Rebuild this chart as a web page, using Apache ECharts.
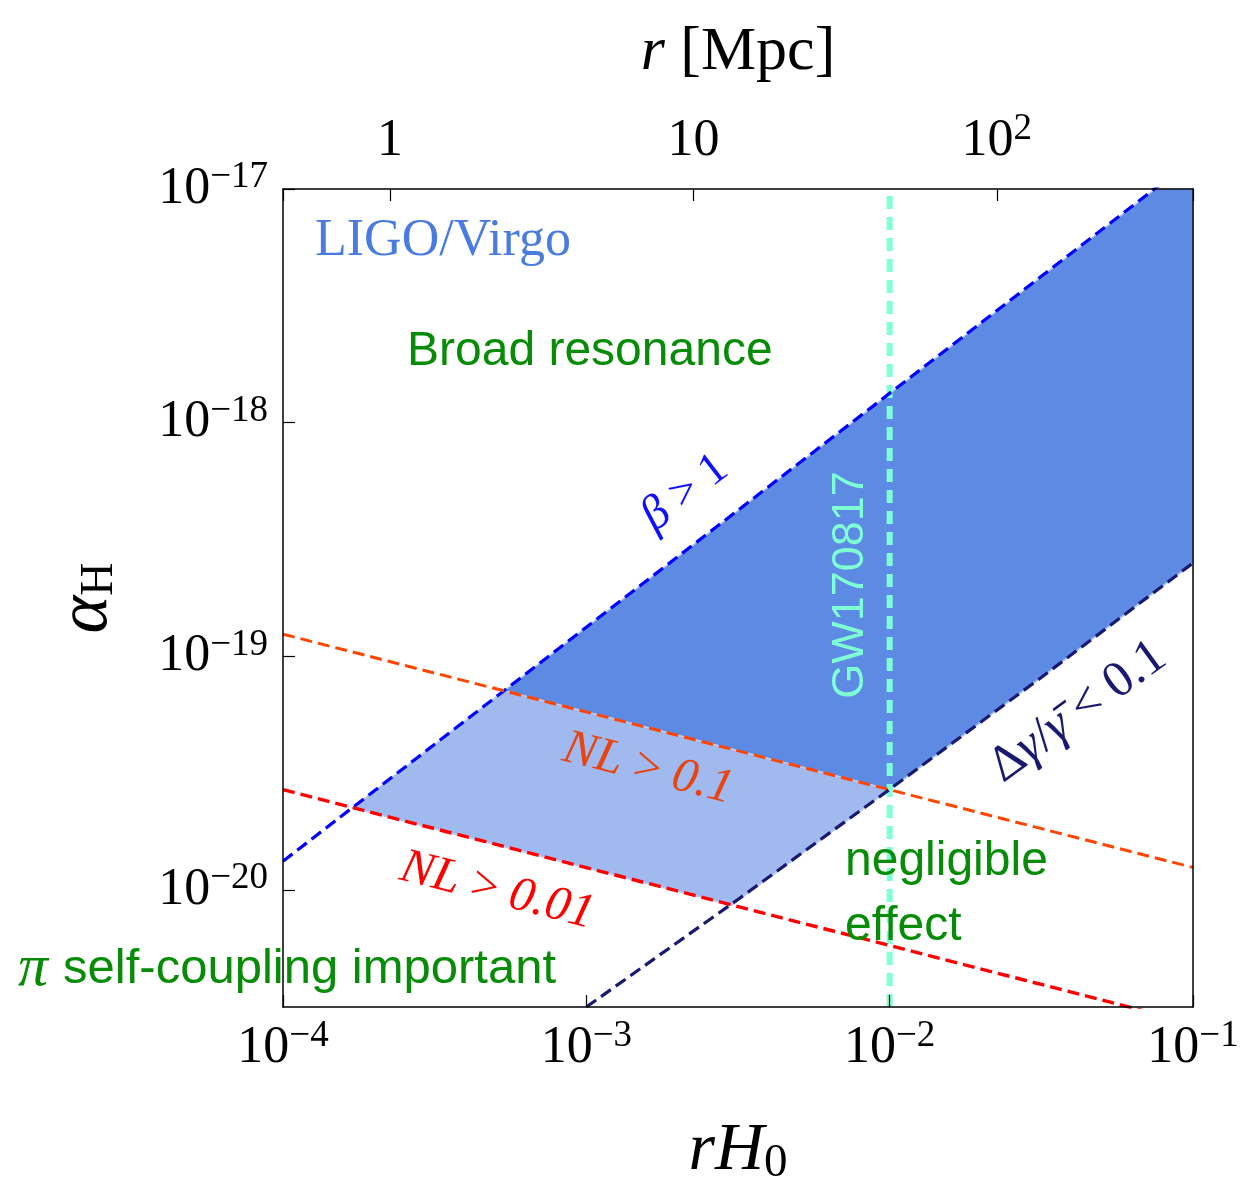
<!DOCTYPE html>
<html><head><meta charset="utf-8">
<script src="https://cdn.jsdelivr.net/npm/echarts@6/dist/echarts.min.js"></script>
<style>html,body{margin:0;padding:0;background:#fff}#main{width:1242px;height:1179px}</style>
</head><body><div id="main"></div>
<script>
// ---------- data ----------
const cOverH0Mpc = 4435;                    // r [Mpc] = rH0 * c/H0
const rH0Range = [1e-4, 1e-1];
const alphaRange = [3.162e-21, 1e-17];

// boundary lines  [rH0, alpha_H]
const betaLine   = [[1e-4, 1.33e-20], [1e-1, 1.34e-17]];
const nl01Line   = [[1e-4, 1.245e-19], [1e-1, 1.25e-20]];
const nl001Line  = [[1e-4, 2.69e-20], [1e-1, 2.69e-21]];
const dGammaLine = [[1e-3, 3.162e-21], [3.16e-3, 9.12e-21], [1e-2, 2.70e-20], [3.16e-2, 8.13e-20], [1e-1, 2.51e-19]];
const gw170817 = 1e-2;

// shaded regions (vertices)
const strongRegion = [[5.36e-4, 7.13e-20], [0.0752, 1e-17], [1e-1, 1e-17], [1e-1, 2.51e-19], [3.16e-2, 8.13e-20], [1e-2, 2.69e-20]];
const weakRegion   = [[5.36e-4, 7.13e-20], [1.694e-4, 2.25e-20], [3.01e-3, 8.63e-21], [1e-2, 2.69e-20]];

// ---------- styling ----------
const serif = '"Liberation Serif", "DejaVu Serif", serif';
const sans = '"Liberation Sans", Arial, sans-serif';
const green = '#078c07';

const tickRich = {
  b: {fontFamily: serif, fontSize: 52, lineHeight: 60, color: '#000'},
  s: {fontFamily: serif, fontSize: 37, lineHeight: 28, verticalAlign: 'top', color: '#000'}
};
function expOf(v) { return Math.log10(v); }
function powLabel(v) {
  const e = expOf(v), r = Math.round(e);
  if (Math.abs(e - r) > 0.01) return '';
  return '{b|10}{s|' + (r < 0 ? '\u2212' + (-r) : r) + '}';
}
function mpcLabel(v) {
  const e = expOf(v), r = Math.round(e);
  if (Math.abs(e - r) > 0.01) return '';
  if (r === 0) return '{b|1}';
  if (r === 1) return '{b|10}';
  return '{b|10}{s|' + r + '}';
}
const tickCommon = {inside: true, length: 12, lineStyle: {color: '#000', width: 1.2}};
const lineCommon = {show: true, onZero: false, lineStyle: {color: '#000', width: 1.5}};

function polygon(name, verts, fill, edge) {
  return {
    type: 'custom', name, data: verts, silent: true, z: 1,
    encode: {x: 0, y: 1},
    renderItem: function (params, api) {
      if (params.dataIndex !== 0) return null;
      const pts = verts.map(v => api.coord(v));
      return {type: 'polygon', shape: {points: pts}, style: {fill: fill, stroke: edge, lineWidth: 1.5}};
    }
  };
}
function dashed(name, data, color, width, dash, z) {
  return {type: 'line', name, data, symbol: 'none', clip: true, z: z || 3, silent: true,
    lineStyle: {color, width, type: dash}};
}
function gText(x, y, rot, text, rich) {
  return {type: 'text', x, y, rotation: rot, z: 100,
    style: {text, rich, align: 'center', verticalAlign: 'middle'}};
}

const chart = echarts.init(document.getElementById('main'), null, {renderer: 'canvas'});
chart.setOption({
  animation: false,
  backgroundColor: '#fff',
  grid: {left: 283, top: 189, width: 910, height: 818, show: false, containLabel: false, outerBoundsMode: 'none'},
  xAxis: [
    {type: 'log', logBase: 10, min: rH0Range[0], max: rH0Range[1], position: 'bottom', z: 10,
     axisLine: lineCommon, axisTick: tickCommon, splitLine: {show: false}, minorTick: {show: false},
     axisLabel: {margin: 11, formatter: powLabel, rich: tickRich},
     name: '{i|rH}{sub|0}', nameLocation: 'middle', nameGap: 108, nameMoveOverlap: false,
     nameTextStyle: {rich: {
       i: {fontFamily: serif, fontStyle: 'italic', fontSize: 68, lineHeight: 72, color: '#000'},
       sub: {fontFamily: serif, fontSize: 47, lineHeight: 32, verticalAlign: 'bottom', color: '#000'}}}},
    {type: 'log', logBase: 10, min: rH0Range[0] * cOverH0Mpc, max: rH0Range[1] * cOverH0Mpc, position: 'top', z: 10,
     axisLine: lineCommon, axisTick: tickCommon, splitLine: {show: false}, minorTick: {show: false},
     axisLabel: {margin: 18, formatter: mpcLabel, rich: tickRich},
     name: '{i|r }{r|[Mpc]}', nameLocation: 'middle', nameGap: 100, nameMoveOverlap: false,
     nameTextStyle: {rich: {
       i: {fontFamily: serif, fontStyle: 'italic', fontSize: 62, lineHeight: 72, color: '#000'},
       r: {fontFamily: serif, fontSize: 62, lineHeight: 72, color: '#000'}}}}
  ],
  yAxis: [
    {type: 'log', logBase: 10, min: alphaRange[0], max: alphaRange[1], position: 'left', z: 10,
     axisLine: lineCommon, axisTick: tickCommon, splitLine: {show: false}, minorTick: {show: false},
     axisLabel: {margin: 15, formatter: powLabel, rich: tickRich},
     name: '{a|\u03b1}{h|H}', nameLocation: 'middle', nameRotate: 90, nameGap: 160, nameMoveOverlap: false,
     nameTextStyle: {rich: {
       a: {fontFamily: serif, fontStyle: 'italic', fontSize: 72, lineHeight: 72, color: '#000'},
       h: {fontFamily: serif, fontSize: 46, lineHeight: 40, verticalAlign: 'bottom', color: '#000'}}}},
    {type: 'value', min: 0, max: 1, position: 'right', z: 10,
     axisLine: lineCommon, axisTick: {show: false}, axisLabel: {show: false}, splitLine: {show: false}}
  ],
  series: [
    polygon('strong', strongRegion, '#5d8be4', '#a9c0f2'),
    polygon('weak', weakRegion, '#a0b9ef', '#b9cbf4'),
    dashed('GW170817', [[gw170817, alphaRange[0]], [gw170817, alphaRange[1]]], '#7fffd4', 6, [13, 8], 2),
    dashed('beta', betaLine, '#0000ff', 3.2, [12, 6]),
    dashed('NL0.1', nl01Line, '#ff4500', 3, [12, 6]),
    dashed('NL0.01', nl001Line, '#ff0000', 3.4, [12, 6]),
    dashed('dgamma', dGammaLine, '#191970', 3.2, [12, 6])
  ],
  graphic: [
    {type: 'text', x: 315, y: 241, z: 100, style: {text: 'LIGO/Virgo', font: '52px ' + serif, fill: '#4a7be0', align: 'left', verticalAlign: 'middle'}},
    {type: 'text', x: 407, y: 352, z: 100, style: {text: 'Broad resonance', font: '48px ' + sans, fill: green, align: 'left', verticalAlign: 'middle'}},
    {type: 'text', x: 845, y: 862, z: 100, style: {text: 'negligible', font: '48px ' + sans, fill: green, align: 'left', verticalAlign: 'middle'}},
    {type: 'text', x: 845, y: 927, z: 100, style: {text: 'effect', font: '48px ' + sans, fill: green, align: 'left', verticalAlign: 'middle'}},
    {type: 'text', x: 18, y: 969, z: 100, style: {text: '{p|\u03c0 }{s|self-coupling important}', align: 'left', verticalAlign: 'middle',
      rich: {p: {fontFamily: serif, fontStyle: 'italic', fontSize: 60, fill: green},
             s: {fontFamily: sans, fontSize: 49, fill: green}}}},
    {type: 'text', x: 851, y: 585, rotation: Math.PI / 2, z: 100, style: {text: 'GW170817', font: '45px ' + sans, fill: '#7fffd4', align: 'center', verticalAlign: 'middle'}},
    gText(685, 493, 0.656, '{i|\u03b2}{r| > 1}',
      {i: {fontFamily: serif, fontStyle: 'italic', fontSize: 48, fill: '#1010ff'}, r: {fontFamily: serif, fontSize: 46, fill: '#1010ff'}}),
    gText(648, 769, -0.251, '{i|NL}{r| > }{i|0.1}',
      {i: {fontFamily: serif, fontStyle: 'italic', fontSize: 49, fill: '#e8440f'}, r: {fontFamily: serif, fontSize: 49, fill: '#e8440f'}}),
    gText(497, 891, -0.251, '{i|NL}{r| > }{i|0.01}',
      {i: {fontFamily: serif, fontStyle: 'italic', fontSize: 49, fill: '#ff0000'}, r: {fontFamily: serif, fontSize: 49, fill: '#ff0000'}}),
    gText(1078, 712, 0.63, '{r|\u0394}{i|\u03b3}{r|/}{i|\u03b3\u0304}{r| < 0.1}',
      {i: {fontFamily: serif, fontStyle: 'italic', fontSize: 51, fill: '#191970'}, r: {fontFamily: serif, fontSize: 51, fill: '#191970'}})
  ]
});
</script></body></html>
